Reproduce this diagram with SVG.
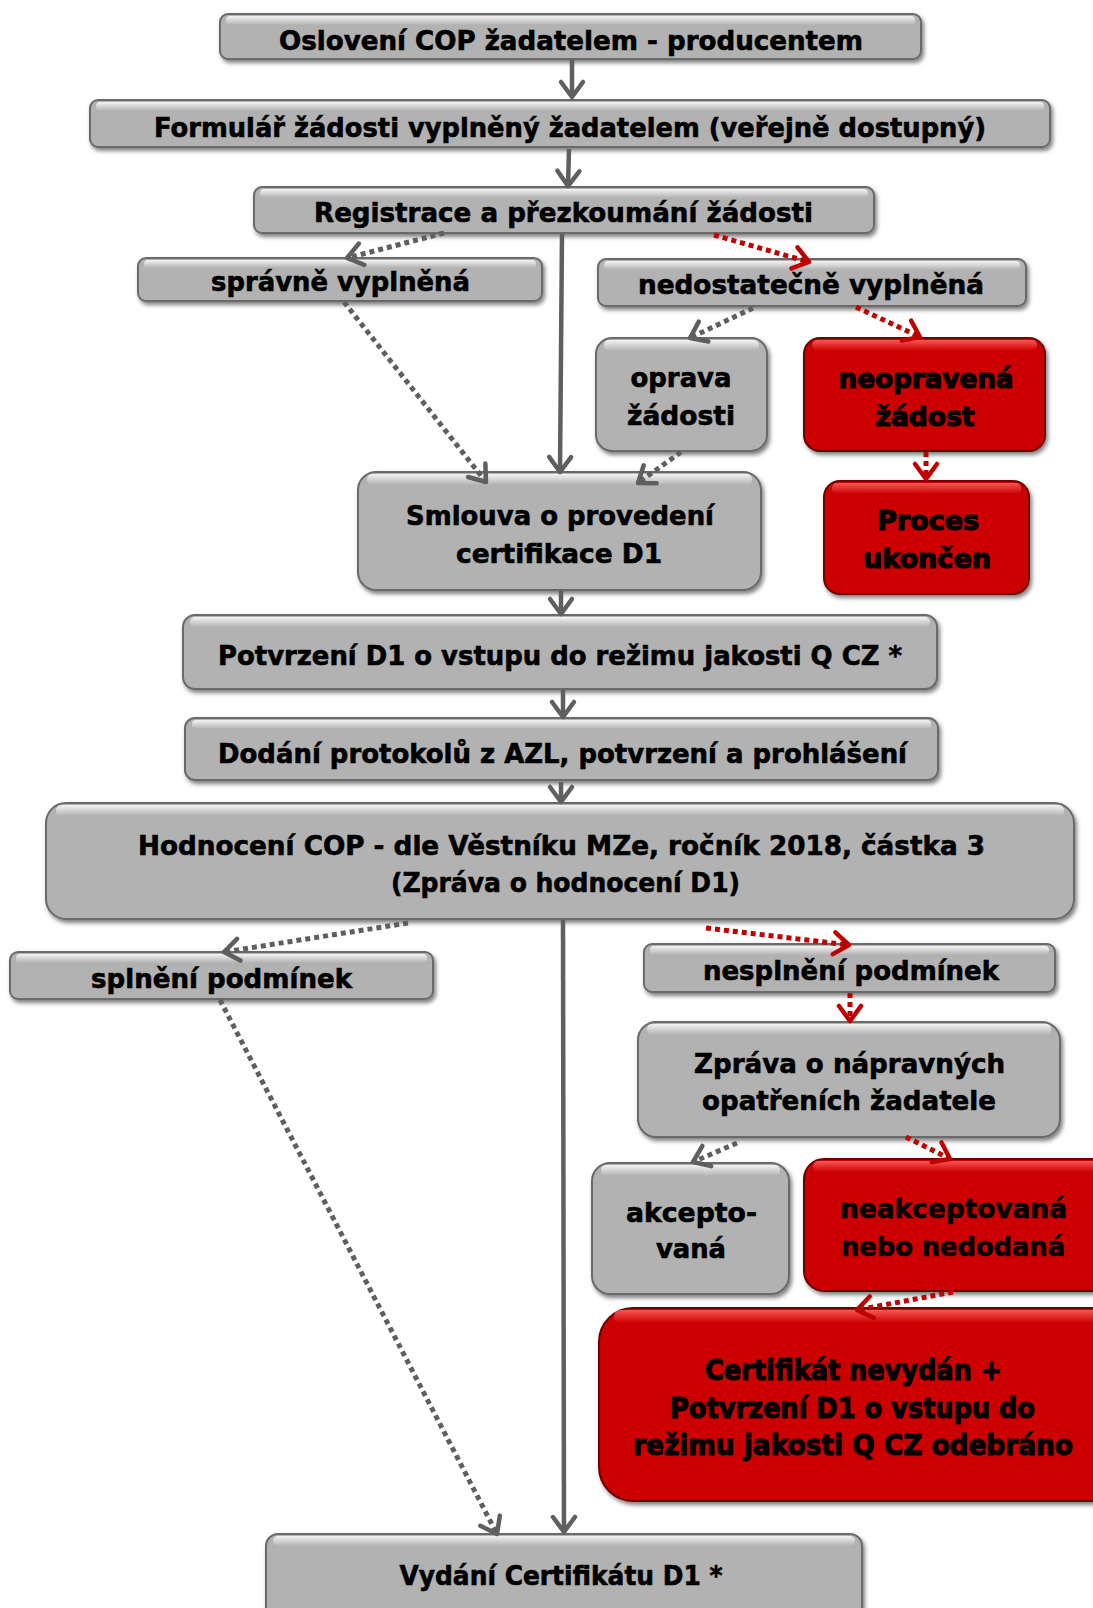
<svg xmlns="http://www.w3.org/2000/svg" width="1093" height="1608" viewBox="0 0 1093 1608">
<defs>
<style>
.box{fill:#b2b2b2;stroke:#6a6a6a;stroke-width:2;filter:url(#sh)}
.rbox{fill:#cc0000;stroke:#6e0000;stroke-width:2;filter:url(#sh)}
.hl{fill:url(#hlg)}
.rhl{fill:url(#rhlg)}
.t{font-family:"DejaVu Sans",Verdana,sans-serif;font-weight:bold;font-size:26px;text-anchor:middle;fill:#000;stroke:#000;stroke-width:0.6}
.h{stroke-width:1.2}
.s{fill:none;stroke:#5f5f5f;stroke-width:4.5;marker-end:url(#ag)}
.d{fill:none;stroke:#5f5f5f;stroke-width:5;stroke-dasharray:5 4;marker-end:url(#ag)}
.r{fill:none;stroke:#c00000;stroke-width:5;stroke-dasharray:5 4;marker-end:url(#ar)}
</style>
<filter id="sh" x="-5%" y="-10%" width="115%" height="130%">
<feDropShadow dx="2" dy="3" stdDeviation="2" flood-color="#000" flood-opacity="0.5"/>
</filter>
<linearGradient id="hlg" x1="0" y1="0" x2="0" y2="1">
<stop offset="0" stop-color="#fff" stop-opacity="0.85"/>
<stop offset="1" stop-color="#fff" stop-opacity="0"/>
</linearGradient>
<linearGradient id="rhlg" x1="0" y1="0" x2="0" y2="1">
<stop offset="0" stop-color="#ff6060" stop-opacity="0.9"/>
<stop offset="1" stop-color="#ff6060" stop-opacity="0"/>
</linearGradient>
<marker id="ag" markerUnits="userSpaceOnUse" markerWidth="40" markerHeight="40" refX="0" refY="0" orient="auto" overflow="visible">
<path d="M-15,-11 L0,0 L-15,11" fill="none" stroke="#5f5f5f" stroke-width="4.5" stroke-linecap="round" stroke-linejoin="round"/>
</marker>
<marker id="ar" markerUnits="userSpaceOnUse" markerWidth="40" markerHeight="40" refX="0" refY="0" orient="auto" overflow="visible">
<path d="M-15,-11 L0,0 L-15,11" fill="none" stroke="#c00000" stroke-width="4.5" stroke-linecap="round" stroke-linejoin="round"/>
</marker>
</defs>
<rect width="1093" height="1608" fill="#fff"/>

<g id="n1"><rect class="box" x="220" y="14" width="701" height="45" rx="8"/><rect class="hl" x="226" y="16" width="689" height="9" rx="4"/>
<text class="t" x="571" y="50" textLength="584" lengthAdjust="spacingAndGlyphs">Oslovení COP žadatelem - producentem</text></g>

<g id="n2"><rect class="box" x="90" y="100" width="960" height="47" rx="8"/><rect class="hl" x="96" y="102" width="948" height="9" rx="4"/>
<text class="t" x="570" y="137" textLength="832" lengthAdjust="spacingAndGlyphs">Formulář žádosti vyplněný žadatelem (veřejně dostupný)</text></g>

<g id="n3"><rect class="box" x="254" y="187" width="620" height="46" rx="8"/><rect class="hl" x="260" y="189" width="608" height="9" rx="4"/>
<text class="t" x="563.5" y="222" textLength="499" lengthAdjust="spacingAndGlyphs">Registrace a přezkoumání žádosti</text></g>

<g id="n4"><rect class="box" x="138" y="258" width="404" height="43" rx="8"/><rect class="hl" x="144" y="260" width="392" height="8" rx="4"/>
<text class="t" x="340.5" y="291" textLength="259" lengthAdjust="spacingAndGlyphs">správně vyplněná</text></g>

<g id="n5"><rect class="box" x="598" y="259" width="428" height="47" rx="8"/><rect class="hl" x="604" y="261" width="416" height="9" rx="4"/>
<text class="t" x="811" y="294" textLength="346" lengthAdjust="spacingAndGlyphs">nedostatečně vyplněná</text></g>

<g id="n6"><rect class="box" x="596" y="338" width="171" height="113" rx="16"/><rect class="hl" x="604" y="340" width="155" height="11" rx="5"/>
<text class="t" x="681" y="387" textLength="101" lengthAdjust="spacingAndGlyphs">oprava</text>
<text class="t" x="681" y="425" textLength="108" lengthAdjust="spacingAndGlyphs">žádosti</text></g>

<g id="n7"><rect class="rbox" x="804" y="338" width="241" height="113" rx="16"/><rect class="rhl" x="812" y="340" width="225" height="11" rx="5"/>
<text class="t h" x="926" y="388" textLength="175" lengthAdjust="spacingAndGlyphs">neopravená</text>
<text class="t h" x="925" y="426" textLength="99" lengthAdjust="spacingAndGlyphs">žádost</text></g>

<g id="n8"><rect class="box" x="358" y="472" width="403" height="118" rx="18"/><rect class="hl" x="367" y="474" width="385" height="11" rx="5"/>
<text class="t" x="560" y="525" textLength="308" lengthAdjust="spacingAndGlyphs">Smlouva o provedení</text>
<text class="t" x="559" y="563" textLength="206" lengthAdjust="spacingAndGlyphs">certifikace D1</text></g>

<g id="n9"><rect class="rbox" x="824" y="481" width="205" height="113" rx="16"/><rect class="rhl" x="832" y="483" width="189" height="11" rx="5"/>
<text class="t h" x="928" y="530" textLength="102" lengthAdjust="spacingAndGlyphs">Proces</text>
<text class="t h" x="927" y="568" textLength="128" lengthAdjust="spacingAndGlyphs">ukončen</text></g>

<g id="n10"><rect class="box" x="183" y="615" width="754" height="74" rx="12"/><rect class="hl" x="190" y="617" width="740" height="10" rx="5"/>
<text class="t" x="560" y="665" textLength="684" lengthAdjust="spacingAndGlyphs">Potvrzení D1 o vstupu do režimu jakosti Q CZ *</text></g>

<g id="n11"><rect class="box" x="185" y="718" width="753" height="62" rx="10"/><rect class="hl" x="192" y="720" width="739" height="9" rx="4"/>
<text class="t" x="562.5" y="763" textLength="689" lengthAdjust="spacingAndGlyphs">Dodání protokolů z AZL, potvrzení a prohlášení</text></g>

<g id="n12"><rect class="box" x="46" y="803" width="1028" height="116" rx="20"/><rect class="hl" x="56" y="805" width="1008" height="11" rx="5"/>
<text class="t" x="561.5" y="855" textLength="847" lengthAdjust="spacingAndGlyphs">Hodnocení COP - dle Věstníku MZe, ročník 2018, částka 3</text>
<text class="t" x="565.5" y="892" textLength="349" lengthAdjust="spacingAndGlyphs">(Zpráva o hodnocení D1)</text></g>

<g id="n13"><rect class="box" x="10" y="952" width="423" height="47" rx="8"/><rect class="hl" x="16" y="954" width="411" height="9" rx="4"/>
<text class="t" x="221.5" y="988" textLength="261" lengthAdjust="spacingAndGlyphs">splnění podmínek</text></g>

<g id="n14"><rect class="box" x="644" y="944" width="411" height="48" rx="8"/><rect class="hl" x="650" y="946" width="399" height="9" rx="4"/>
<text class="t" x="851" y="980" textLength="296" lengthAdjust="spacingAndGlyphs">nesplnění podmínek</text></g>

<g id="n15"><rect class="box" x="638" y="1022" width="422" height="115" rx="18"/><rect class="hl" x="647" y="1024" width="404" height="11" rx="5"/>
<text class="t" x="849.5" y="1073" textLength="311" lengthAdjust="spacingAndGlyphs">Zpráva o nápravných</text>
<text class="t" x="849" y="1110" textLength="294" lengthAdjust="spacingAndGlyphs">opatřeních žadatele</text></g>

<g id="n16"><rect class="box" x="592" y="1163" width="197" height="131" rx="18"/><rect class="hl" x="601" y="1165" width="179" height="11" rx="5"/>
<text class="t" x="691.5" y="1222" textLength="131" lengthAdjust="spacingAndGlyphs">akcepto-</text>
<text class="t" x="691" y="1258" textLength="70" lengthAdjust="spacingAndGlyphs">vaná</text></g>

<g id="n17"><rect class="rbox" x="804" y="1159" width="320" height="132" rx="20"/><rect class="rhl" x="813" y="1161" width="300" height="11" rx="5"/>
<text class="t" x="953.5" y="1218" textLength="227" lengthAdjust="spacingAndGlyphs">neakceptovaná</text>
<text class="t" x="953" y="1256" textLength="224" lengthAdjust="spacingAndGlyphs">nebo nedodaná</text></g>

<g id="n18"><rect class="rbox" x="599" y="1308" width="540" height="193" rx="34"/><rect class="rhl" x="614" y="1310" width="510" height="13" rx="6"/>
<text class="t h" x="853.5" y="1380" style="font-size:29px" textLength="297" lengthAdjust="spacingAndGlyphs">Certifikát nevydán +</text>
<text class="t h" x="852.5" y="1418" style="font-size:29px" textLength="365" lengthAdjust="spacingAndGlyphs">Potvrzení D1 o vstupu do</text>
<text class="t h" x="853" y="1455" style="font-size:29px" textLength="440" lengthAdjust="spacingAndGlyphs">režimu jakosti Q CZ odebráno</text></g>

<g id="n19"><rect class="box" x="266" y="1534" width="596" height="100" rx="12"/><rect class="hl" x="273" y="1536" width="582" height="10" rx="5"/>
<text class="t" x="561" y="1585" textLength="323" lengthAdjust="spacingAndGlyphs">Vydání Certifikátu D1 *</text></g>

<g id="connectors">
<path class="s" d="M572,60 L572,97"/>
<path class="s" d="M569,149 L568,186"/>
<path class="s" d="M562,234 L560,472"/>
<path class="d" d="M444,233 L347,258"/>
<path class="r" d="M714,235 L809,262"/>
<path class="d" d="M344,302 L486,482"/>
<path class="d" d="M753,308 L690,338"/>
<path class="r" d="M856,307 L920,337"/>
<path class="d" d="M681,452 L638,483"/>
<path class="r" d="M926,452 L926,479"/>
<path class="s" d="M561,591 L561,614"/>
<path class="s" d="M563,690 L563,717"/>
<path class="s" d="M561,782 L561,802"/>
<path class="s" d="M563,920 L564,1532"/>
<path class="d" d="M408,923 L224,952"/>
<path class="r" d="M706,928 L849,945"/>
<path class="d" d="M220,1000 L497,1534"/>
<path class="r" d="M850,993 L850,1021"/>
<path class="d" d="M737,1143 L693,1162"/>
<path class="r" d="M906,1137 L950,1159"/>
<path class="r" d="M953,1292 L857,1310"/>
</g>
</svg>
